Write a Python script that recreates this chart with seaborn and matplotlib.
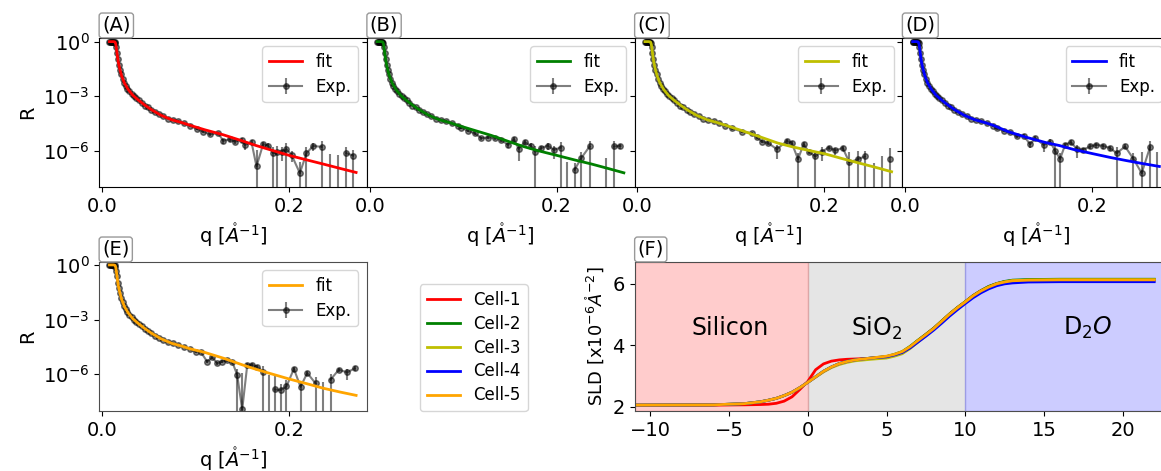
import numpy as np
import matplotlib
matplotlib.use("Agg")
import matplotlib.pyplot as plt
from matplotlib.lines import Line2D
from matplotlib.ticker import FixedLocator, NullLocator, MultipleLocator
import seaborn as sns

plt.rcParams["font.family"] = ["DejaVu Sans"]
plt.rcParams["mathtext.fontset"] = "dejavusans"

# ---------------------------------------------------------------- data
# reflectivity measured below q = 0.094 (plateau + steep decay), common to all cells
q_low = [0.0080, 0.0088, 0.0096, 0.0104, 0.0112, 0.0120, 0.0128, 0.0136,
         0.0144, 0.0152, 0.0160, 0.0170, 0.0180, 0.0192, 0.0205, 0.0220,
         0.0236, 0.0254, 0.0273, 0.0294, 0.0316, 0.0340, 0.0366, 0.0394,
         0.0424, 0.0456, 0.0490, 0.0527, 0.0567, 0.0610, 0.0656, 0.0705,
         0.0758, 0.0815, 0.0876, 0.0940]
R_low = [1.0, 1.0, 0.977, 1.0, 0.977, 1.0, 0.977, 0.955,
         0.794, 0.479, 0.240, 0.105, 5.25e-2, 2.82e-2, 1.58e-2, 9.33e-3,
         5.62e-3, 3.72e-3, 2.51e-3, 1.82e-3, 1.32e-3, 1.00e-3, 7.59e-4, 5.75e-4,
         4.37e-4, 3.02e-4, 2.40e-4, 1.74e-4, 1.26e-4, 1.00e-4, 7.94e-5, 5.75e-5,
         5.01e-5, 4.17e-5, 3.16e-5, 2.40e-5]
rel_err_low = [0.02, 0.02, 0.02, 0.02, 0.02, 0.02, 0.02, 0.02, 0.02, 0.02, 0.02, 0.02,
               0.03, 0.03, 0.03, 0.03, 0.03, 0.04, 0.04, 0.04, 0.04, 0.05, 0.05, 0.05,
               0.06, 0.06, 0.06, 0.07, 0.07, 0.08, 0.08, 0.09, 0.09, 0.10, 0.11, 0.12]

# high-q reflectivity per cell (non-positive values = background-subtracted below zero)
q_hi_A = [0.1013, 0.1084, 0.1155, 0.1244, 0.1298, 0.1369, 0.1422, 0.1494, 0.1529, 0.1601,
          0.1654, 0.1725, 0.1779, 0.1832, 0.1875, 0.1922, 0.1975, 0.2029, 0.2118, 0.2189,
          0.2260, 0.2350, 0.2440, 0.2524, 0.2617, 0.2688]
R_hi_A = [1.58e-5, 1.12e-5, 7.94e-6, 9.12e-6, 3.47e-6, 4.27e-6, 3.16e-6, 3.89e-6, 2.09e-6, 2.82e-6,
          1.35e-7, 2.29e-6, 1.91e-6, 7.24e-7, 8.32e-7, 8.91e-7, 1.20e-6, 5.89e-7, 5.75e-8, 7.24e-7,
          1.82e-6, 1.62e-6, -2.0e-7, -1.5e-7, 7.24e-7, 5.37e-7]
dR_hi_A = [2.4e-6, 1.7e-6, 1.6e-6, 1.8e-6, 1.0e-6, 1.1e-6, 9.5e-7, 1.2e-6, 1.0e-6, 8.5e-7,
           9.6e-7, 6.9e-7, 7.6e-7, 8.0e-7, 9.2e-7, 6.2e-7, 1.32e-6, 3.5e-7, 1.9e-7, 8.0e-7,
           9.1e-7, 1.78e-6, 8.5e-7, 7.4e-7, 8.0e-7, 5.9e-7]

q_hi_B = [0.0981, 0.1052, 0.1123, 0.1195, 0.1266, 0.1337, 0.1408, 0.1480, 0.1544, 0.1594,
          0.1658, 0.1722, 0.1772, 0.1836, 0.1907, 0.1971, 0.2043, 0.2114, 0.2193, 0.2264,
          0.2353, 0.2531, 0.2613, 0.2684]
R_hi_B = [1.86e-5, 1.23e-5, 9.12e-6, 4.90e-6, 5.25e-6, 5.25e-6, 3.89e-6, 2.09e-6, 4.27e-6, 1.26e-6,
          2.95e-6, 1.91e-6, 8.91e-7, 1.38e-6, 1.91e-6, 1.10e-6, 1.48e-6, -1.0e-7, 8.91e-8, 3.89e-7,
          1.70e-6, -1.0e-7, 1.70e-6, 1.82e-6]
dR_hi_B = [2.8e-6, 1.8e-6, 1.8e-6, 1.0e-6, 1.1e-6, 1.3e-6, 1.0e-6, 6.3e-7, 1.3e-6, 1.0e-6,
           8.9e-7, 6.7e-7, 9.8e-7, 4.8e-7, 7.6e-7, 7.7e-7, 1.63e-6, 3.5e-7, 1.1e-7, 4.3e-7,
           1.87e-6, 4.9e-7, 1.87e-6, 5.5e-7]

q_hi_C = [0.1009, 0.1116, 0.1224, 0.1278, 0.1331, 0.1402, 0.1492, 0.1600, 0.1653, 0.1718,
          0.1778, 0.1831, 0.1903, 0.1975, 0.2046, 0.2118, 0.2197, 0.2268, 0.2358, 0.2433,
          0.2529, 0.2619, 0.2701]
R_hi_C = [1.70e-5, 1.12e-5, 9.12e-6, 5.50e-6, 3.16e-6, 2.57e-6, 1.20e-6, 3.47e-6, 2.57e-6, 3.39e-7,
          2.29e-6, 8.91e-7, 4.79e-7, 8.91e-7, 1.48e-6, 1.02e-6, 1.41e-6, 2.24e-7, 3.39e-7, 4.79e-7,
          -1.0e-7, -1.0e-7, 3.39e-7]
dR_hi_C = [2.6e-6, 1.7e-6, 1.8e-6, 1.1e-6, 6.3e-7, 6.4e-7, 8.4e-7, 1.0e-6, 7.7e-7, 4.1e-7,
           6.9e-7, 2.7e-7, 5.3e-7, 6.2e-7, 4.4e-7, 4.1e-7, 4.2e-7, 6.7e-7, 6.8e-7, 5.3e-7,
           3.0e-7, 5.8e-7, 1.04e-6]

q_hi_D = [0.0980, 0.1052, 0.1123, 0.1194, 0.1266, 0.1337, 0.1390, 0.1480, 0.1551, 0.1604,
          0.1658, 0.1711, 0.1772, 0.1836, 0.1900, 0.1979, 0.2043, 0.2121, 0.2193, 0.2264,
          0.2353, 0.2442, 0.2531, 0.2620, 0.2691]
R_hi_D = [1.70e-5, 1.23e-5, 1.02e-5, 6.03e-6, 6.76e-6, 2.24e-6, 4.90e-6, 2.09e-6, 3.16e-6, 9.77e-7,
          3.55e-7, 2.09e-6, 2.95e-6, 1.26e-6, 1.10e-6, 1.70e-6, 2.09e-6, 1.82e-6, 1.38e-6, 7.24e-7,
          1.70e-6, 3.55e-7, 5.75e-8, 1.55e-6, -2.0e-7]
dR_hi_D = [2.6e-6, 1.8e-6, 2.0e-6, 1.2e-6, 1.4e-6, 9.0e-7, 1.2e-6, 1.25e-6, 9.5e-7, 1.07e-6,
           4.3e-7, 6.3e-7, 8.9e-7, 8.8e-7, 3.3e-7, 5.1e-7, 6.3e-7, 5.5e-7, 4.1e-7, 8.0e-7,
           5.1e-7, 4.3e-7, 8.3e-7, 1.7e-6, 1.09e-6]

q_hi_E = [0.1001, 0.1055, 0.1126, 0.1180, 0.1233, 0.1287, 0.1340, 0.1394, 0.1447, 0.1501,
          0.1555, 0.1608, 0.1662, 0.1726, 0.1786, 0.1847, 0.1911, 0.1975, 0.2054, 0.2125,
          0.2197, 0.2286, 0.2365, 0.2446, 0.2535, 0.2625, 0.2703]
R_hi_E = [1.74e-5, 1.74e-5, 4.90e-6, 8.51e-6, 3.98e-6, 4.90e-6, 6.03e-6, 4.90e-6, 9.12e-7, 1.17e-8,
          3.24e-6, 3.24e-6, 2.57e-6, 1.38e-6, -2.0e-7, 1.48e-7, 1.35e-7, 2.14e-7, 2.00e-6, 2.04e-7,
          1.17e-6, 3.16e-7, -1.0e-7, 5.01e-7, 1.78e-6, 1.26e-6, 2.09e-6]
dR_hi_E = [2.6e-6, 2.6e-6, 1.0e-6, 1.7e-6, 8.0e-7, 1.0e-6, 1.2e-6, 1.2e-6, 1.0e-6, 1.2e-6,
           9.7e-7, 9.7e-7, 7.7e-7, 1.52e-6, 1.11e-6, 6.8e-7, 1.5e-7, 2.6e-7, 6.0e-7, 2.4e-7,
           3.5e-7, 3.8e-7, 4.9e-7, 5.5e-7, 5.3e-7, 7.6e-7, 6.3e-7]

# model reflectivity: common low-q part and per-cell high-q tails
q_fit_low = [0.0080, 0.0100, 0.0120, 0.0135, 0.0142, 0.0148, 0.0155, 0.0165, 0.0175, 0.0190,
             0.0210, 0.0240, 0.0280, 0.0330, 0.0390, 0.0460, 0.0530, 0.0630, 0.0745, 0.0850,
             0.0940]
R_fit_low = [1.0, 1.0, 1.0, 0.977, 0.912, 0.708, 0.398, 0.158, 7.08e-2, 3.16e-2,
             1.32e-2, 5.25e-3, 2.34e-3, 1.12e-3, 6.03e-4, 3.16e-4, 1.78e-4, 8.91e-5, 5.01e-5, 3.55e-5,
             2.51e-5]
q_fit_hi = [0.110, 0.130, 0.150, 0.165, 0.180, 0.201, 0.220, 0.237, 0.255, 0.272]
R_fit_hi_A = [1.41e-5, 7.41e-6, 3.47e-6, 1.91e-6, 1.12e-6, 5.37e-7, 3.02e-7, 1.82e-7, 1.05e-7, 6.31e-8]
R_fit_hi_B = [1.41e-5, 6.92e-6, 3.02e-6, 1.66e-6, 1.00e-6, 5.37e-7, 3.02e-7, 1.86e-7, 1.05e-7, 6.03e-8]
R_fit_hi_C = [1.35e-5, 6.03e-6, 2.63e-6, 1.66e-6, 1.12e-6, 6.61e-7, 3.55e-7, 2.09e-7, 1.20e-7, 6.92e-8]
R_fit_hi_D = [1.12e-5, 5.37e-6, 2.82e-6, 1.91e-6, 1.17e-6, 6.76e-7, 4.17e-7, 2.82e-7, 1.91e-7, 1.35e-7]
R_fit_hi_E = [1.58e-5, 7.59e-6, 3.31e-6, 1.86e-6, 1.10e-6, 5.37e-7, 2.95e-7, 1.70e-7, 1.05e-7, 6.92e-8]

# scattering length density profiles (z in Angstrom)
z_sld = [-11, -6, -4, -3, -2.5, -2, -1.5, -1, -0.5, 0,
         0.5, 1, 1.5, 2, 2.5, 3, 4, 5, 5.5, 6,
         6.5, 7, 7.5, 8, 8.5, 9, 9.5, 10, 10.5, 11,
         11.5, 12, 12.5, 13, 14, 16, 22]
sld_cell1 = [2.05, 2.05, 2.06, 2.07, 2.08, 2.11, 2.18, 2.32, 2.56, 2.82,
             3.20, 3.39, 3.48, 3.52, 3.54, 3.55, 3.57, 3.62, 3.68, 3.77,
             3.94, 4.15, 4.35, 4.55, 4.78, 5.01, 5.22, 5.41, 5.61, 5.77,
             5.90, 6.00, 6.06, 6.09, 6.11, 6.12, 6.12]
sld_cell2 = [2.05, 2.06, 2.10, 2.16, 2.21, 2.27, 2.36, 2.47, 2.62, 2.79,
             2.97, 3.15, 3.29, 3.40, 3.47, 3.52, 3.58, 3.63, 3.70, 3.79,
             3.96, 4.16, 4.35, 4.55, 4.78, 5.01, 5.22, 5.41, 5.61, 5.77,
             5.91, 6.00, 6.07, 6.11, 6.13, 6.14, 6.14]
sld_cell3 = [2.05, 2.06, 2.10, 2.16, 2.21, 2.27, 2.36, 2.47, 2.62, 2.79,
             2.96, 3.13, 3.27, 3.37, 3.44, 3.49, 3.54, 3.58, 3.64, 3.72,
             3.89, 4.10, 4.31, 4.52, 4.76, 4.99, 5.20, 5.40, 5.59, 5.75,
             5.88, 5.99, 6.05, 6.09, 6.11, 6.12, 6.12]
sld_cell4 = [2.05, 2.06, 2.10, 2.16, 2.21, 2.27, 2.36, 2.47, 2.62, 2.79,
             2.97, 3.15, 3.29, 3.40, 3.47, 3.52, 3.58, 3.62, 3.68, 3.76,
             3.91, 4.10, 4.29, 4.49, 4.71, 4.94, 5.15, 5.35, 5.54, 5.70,
             5.83, 5.93, 5.99, 6.02, 6.05, 6.06, 6.06]
sld_cell5 = [2.05, 2.06, 2.10, 2.16, 2.21, 2.27, 2.36, 2.47, 2.62, 2.79,
             2.97, 3.15, 3.29, 3.40, 3.47, 3.52, 3.58, 3.64, 3.70, 3.79,
             3.95, 4.15, 4.34, 4.54, 4.77, 5.00, 5.21, 5.40, 5.60, 5.76,
             5.89, 5.99, 6.05, 6.09, 6.11, 6.12, 6.12]

cell_names = ["Cell-1", "Cell-2", "Cell-3", "Cell-4", "Cell-5"]
cell_colors = ["red", "green", "y", "blue", "orange"]
panel_tags = ["(A)", "(B)", "(C)", "(D)", "(E)", "(F)"]

# ---------------------------------------------------------------- figure
W, H = 1161, 471
fig = plt.figure(figsize=(W / 100, H / 100), dpi=100)


def px_axes(left, top, right, bottom):
    return fig.add_axes([left / W, 1 - bottom / H, (right - left) / W, (bottom - top) / H])


col_w = (1170 - 99) / 4
ax_top = [px_axes(99 + i * col_w, 38, 99 + (i + 1) * col_w, 187) for i in range(4)]
ax_E = px_axes(99, 262, 99 + col_w, 411)
ax_F = px_axes(99 + 2 * col_w, 262, 1170, 411)


def tag(ax, text):
    ax.annotate(text, xy=(0, 1), xycoords="axes fraction", xytext=(2.2, 2.2),
                textcoords="offset points", ha="left", va="bottom", fontsize=14,
                bbox=dict(boxstyle="round,pad=0.15", fc="white", ec="0.6", lw=1))


def reflect_panel(ax, q_hi, R_hi, dR_hi, R_fit_hi, color, tag_text, show_ylabel, ylims):
    q = np.array(q_low + q_hi)
    R = np.array(R_low + R_hi)
    dR = np.concatenate([np.array(R_low) * np.array(rel_err_low), np.array(dR_hi)])
    pos = R > 0
    ax.set_yscale("log", nonpositive="clip")
    eb = ax.errorbar(q, np.where(pos, R, np.nan), yerr=np.where(pos, dR, np.nan),
                     fmt="-o", color="k", ms=4, lw=1.5, elinewidth=1.5, alpha=0.5, zorder=2)
    ax.vlines(q[~pos], 1e-14, (R + dR)[~pos], color="k", lw=1.5, alpha=0.5, zorder=2)
    qf = q_fit_low + q_fit_hi
    Rf = R_fit_low + R_fit_hi
    sns.lineplot(x=qf, y=Rf, ax=ax, color=color, lw=2, sort=False, zorder=3)
    fit_line = ax.lines[-1]
    ax.set_ylim(*ylims)
    ax.set_xlim(-0.0032, 0.2834)
    ax.yaxis.set_major_locator(FixedLocator([1.0, 1e-3, 1e-6]))
    ax.yaxis.set_minor_locator(NullLocator())
    ax.xaxis.set_major_locator(MultipleLocator(0.2))
    ax.tick_params(labelsize=14)
    ax.set_xlabel(r"q [$\mathring{A}^{-1}$]", fontsize=14)
    if show_ylabel:
        ax.set_ylabel("R", fontsize=14)
    else:
        ax.tick_params(labelleft=False)
    ax.legend([fit_line, eb], ["fit", "Exp."], loc="upper right", fontsize=12,
              labelspacing=0.4)
    tag(ax, tag_text)


top_sets = [(q_hi_A, R_hi_A, dR_hi_A, R_fit_hi_A),
            (q_hi_B, R_hi_B, dR_hi_B, R_fit_hi_B),
            (q_hi_C, R_hi_C, dR_hi_C, R_fit_hi_C),
            (q_hi_D, R_hi_D, dR_hi_D, R_fit_hi_D)]
for i, (ax, s) in enumerate(zip(ax_top, top_sets)):
    reflect_panel(ax, *s, cell_colors[i], panel_tags[i], i == 0, (1.0e-8, 1.58))

reflect_panel(ax_E, q_hi_E, R_hi_E, dR_hi_E, R_fit_hi_E, cell_colors[4], panel_tags[4],
              True, (9.6e-9, 1.45))

# ---------------------------------------------------------------- SLD profile
ax_F.axvspan(-11, 0, color="red", alpha=0.2)
ax_F.axvspan(0, 10, color="grey", alpha=0.2)
ax_F.axvspan(10, 23, color="blue", alpha=0.2)
for prof, c in zip([sld_cell1, sld_cell2, sld_cell3, sld_cell4, sld_cell5], cell_colors):
    sns.lineplot(x=z_sld, y=prof, ax=ax_F, color=c, lw=2, sort=False)
ax_F.text(-4.9, 4.55, "Silicon", ha="center", va="center", fontsize=17)
ax_F.text(4.4, 4.55, r"SiO$_2$", ha="center", va="center", fontsize=17)
ax_F.text(17.8, 4.55, r"D$_2O$", ha="center", va="center", fontsize=17)
ax_F.set_xlim(-11, 23)
ax_F.set_ylim(1.86, 6.70)
ax_F.set_yticks([2, 4, 6])
ax_F.set_xticks([-10, -5, 0, 5, 10, 15, 20])
ax_F.tick_params(labelsize=14)
ax_F.set_ylabel(r"SLD [x10$^{-6}\mathring{A}^{-2}$]", fontsize=13)
tag(ax_F, panel_tags[5])

for ax in (ax_E, ax_F):
    for sp in ax.spines.values():
        sp.set_color("0.3")

handles = [Line2D([], [], color=c, lw=2) for c in cell_colors]
fig.legend(handles, cell_names, loc="lower left", bbox_to_anchor=(420 / W, 60 / H),
           borderaxespad=0, fontsize=12, labelspacing=0.35)

fig.savefig("out.png", dpi=100)
